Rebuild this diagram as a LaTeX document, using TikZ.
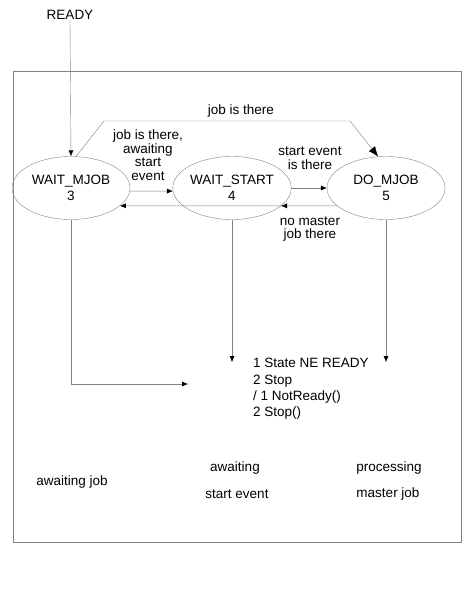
\documentclass[tikz,border=0pt]{standalone}
\usepackage{fontspec}
\setmainfont{Liberation Sans}
\usetikzlibrary{arrows.meta,shapes.geometric}
\definecolor{G1}{RGB}{130,130,130}
\tikzstyle{state}=[shape=ellipse, draw=G1, minimum width=118pt, minimum height=63pt, inner sep=0, align=center, font=\fontsize{13.5}{16}\selectfont]
\tikzstyle{lbl}=[align=center, inner sep=0, font=\fontsize{13.5}{13.5}\selectfont]
\tikzstyle{flow}=[G1, -{Latex[length=6pt,width=5pt,color=black]}]

\begin{document}
\begin{tikzpicture}[x=1pt,y=-1pt]
    \useasboundingbox (0,0) rectangle (471,604);
    \draw[G1] (13,71) rectangle (461,542);
    \draw (70,15) node[lbl](ready){READY};
    \draw (71,188) node[state](mjob){WAIT\_MJOB\\3};
    \draw (232,188) node[state](wstart){WAIT\_START\\4};
    \draw (386,188) node[state](domjob){DO\_MJOB\\5};
    \draw[flow] (ready.south) -- (mjob.north);
    % job is there
    \coordinate (k1) at (104,121); \coordinate (k2) at (350,121);
    \draw[G1, -{Latex[length=10pt,width=8pt,color=black]}] (mjob.81) -- (k1) -- (k2) -- (domjob.104);
    \draw (241,111) node[lbl](l1){job is there};
    \draw[flow] (mjob.-3) -- (wstart.183);
    \draw[flow] (wstart.-20) -- (mjob.-20);
    \draw (148,155) node[lbl](l2){job is there,\\awaiting\\start\\event};
    \draw[flow] (wstart.east) -- (domjob.west);
    \draw[flow] (domjob.200) -- (wstart.-20);
    \draw (310,158) node[lbl](l3){start event\\is there};
    \draw (310,229) node[lbl](l4){no master\\job there};
    % to the actions
    \coordinate (c1) at (71,384); \coordinate (c2) at (188,384);
    \coordinate (c3) at (232,362); \coordinate (c4) at (386,362);
    \draw[flow] (mjob.south) -- (c1) -- (c2);
    \draw[flow] (wstart.south) -- (c3);
    \draw[flow] (domjob.south) -- (c4);
    \draw (253,358) node[anchor=north west, align=left, inner sep=0, font=\fontsize{13.5}{16.4}\selectfont](act){1 State NE READY\\2 Stop\\/ 1 NotReady()\\2 Stop()};
    \draw (72,482) node[lbl](b1){awaiting job};
    \draw (235,468) node[lbl](b2){awaiting};
    \draw (237,494) node[lbl](b3){start event};
    \draw (389,468) node[lbl](b4){processing};
    \draw (388,494) node[lbl](b5){master job};
\end{tikzpicture}
\end{document}
